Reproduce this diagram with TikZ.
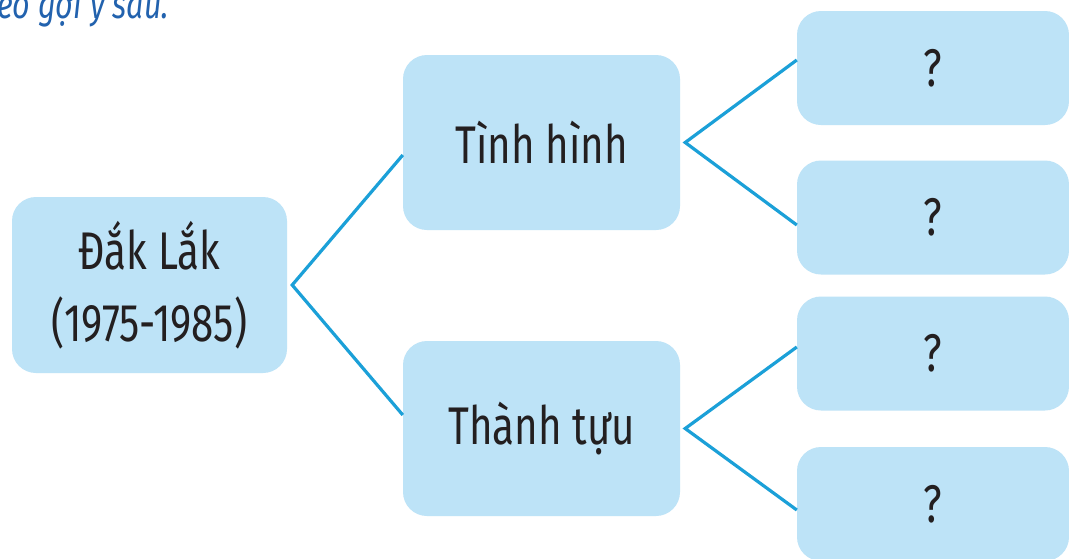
\documentclass[tikz,border=0pt]{standalone}
\usepackage{fontspec}
\setmainfont{Fira Sans}[FakeStretch=0.76]
\definecolor{boxfill}{HTML}{BDE3F7}
\definecolor{linkblue}{HTML}{1BA0D8}
\definecolor{ink}{HTML}{231F20}
\definecolor{headblue}{HTML}{2262AE}
\tikzset{
  card/.style={fill=boxfill, draw=none, rounded corners=24pt, text=ink,
    font=\fontsize{53}{60}\selectfont, align=center, inner sep=0pt},
  rootcard/.style={card, minimum width=275pt, minimum height=176pt},
  midcard/.style={card, minimum width=277pt, minimum height=175pt},
  leafcard/.style={card, minimum width=272pt, minimum height=114pt},
  link/.style={draw=linkblue, line width=3.2pt, line join=miter},
}
\begin{document}
\begin{tikzpicture}[x=1pt,y=-1pt]
\useasboundingbox (0,0) rectangle (1069,558);
\fill[white] (0,0) rectangle (1069,558);

% heading fragment at the top edge
\node[anchor=base west, inner sep=0pt, text=headblue,
  font=\fontsize{40}{46}\selectfont\itshape] (head) at (-3,18) {eo gợi ý sau.};

% boxes
\node[rootcard] (root) at (149.5,285) {Đắk Lắk\\[12pt](1975-1985)};
\node[midcard] (tinh) at (541.5,142.5) {Tình hình};
\node[midcard] (thanh) at (541.5,428.5) {Thành tựu};
\node[leafcard] (q1) at (933,68) {?};
\node[leafcard] (q2) at (933,217.5) {?};
\node[leafcard] (q3) at (933,353.5) {?};
\node[leafcard] (q4) at (933,504) {?};

% connectors
\draw[link] ([yshift=-12.5pt]tinh.west) -- ([xshift=5pt]root.east) -- ([yshift=13.5pt]thanh.west);
\draw[link] ([yshift=8pt]q1.west) -- ([xshift=5pt]tinh.east) -- ([yshift=-7.5pt]q2.west);
\draw[link] ([yshift=6.5pt]q3.west) -- ([xshift=5pt]thanh.east) -- ([yshift=-6pt]q4.west);
\end{tikzpicture}
\end{document}
